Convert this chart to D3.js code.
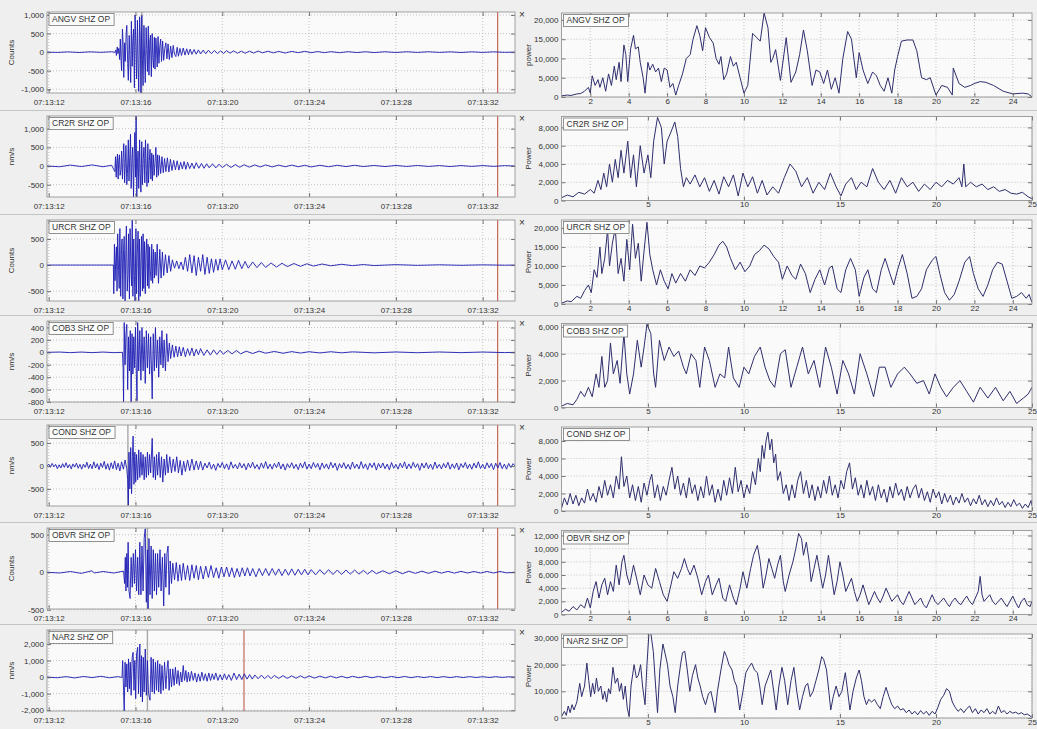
<!DOCTYPE html>
<html><head><meta charset="utf-8">
<script src="https://cdn.jsdelivr.net/npm/d3@7"></script>
<style>body{margin:0;background:#efefef}svg{display:block}</style>
</head><body><svg id="c" width="1037" height="729"></svg>
<script>
// ---------------- DATA ----------------
const stations = ["ANGV SHZ OP","CR2R SHZ OP","URCR SHZ OP","COB3 SHZ OP","COND SHZ OP","OBVR SHZ OP","NAR2 SHZ OP"];
const waveUnits = ["Counts","nm/s","Counts","nm/s","nm/s","Counts","nm/s"];
const specUnits = ["power","Power","Power","Power","Power","Power","Power"];
const waveTicks = [[-1000,-500,0,500,1000],[-500,0,500,1000],[-500,0,500],[-800,-600,-400,-200,0,200,400],[-500,0,500],[-500,0,500],[-2000,-1000,0,1000,2000]];
const waveDomains = [[-1100,1080],[-830,1340],[-690,865],[-800,505],[-870,890],[-490,590],[-2050,2850]];
const specTicksY = [[0,5000,10000,15000,20000],[0,2000,4000,6000,8000],[0,5000,10000,15000,20000],[0,2000,4000,6000],[0,2000,4000,6000,8000],[0,2000,4000,6000,8000,10000,12000],[0,10000,20000,30000]];
const specTicksX = [[2,4,6,8,10,12,14,16,18,20,22,24],[5,10,15,20,25],[2,4,6,8,10,12,14,16,18,20,22,24],[5,10,15,20,25],[5,10,15,20,25],[2,4,6,8,10,12,14,16,18,20,22,24],[5,10,15,20,25]];
const specMax = [21800,9200,22100,6250,9600,12760,31500];
const redLineTimes = [20.69,20.69,20.69,20.69,20.69,20.69,9.0];
const pickTimes = [4.29,null,null,null,3.65,4.55,4.55];

// seconds after 07:13:12, amplitude
const angvWave = [[-0.08,0],[0.4,-8],[0.9,6],[1.4,-10],[1.9,8],[2.4,-6],[2.9,10],[3.05,-5],[3.09,60],[3.12,-90],[3.16,140],[3.19,-40],[3.23,100],[3.27,-200],[3.3,350],[3.33,-150],[3.36,-500],[3.4,620],[3.43,200],[3.46,-680],[3.5,250],[3.53,-250],[3.57,500],[3.6,720],[3.64,-300],[3.67,-760],[3.71,450],[3.74,-100],[3.78,-820],[3.81,830],[3.85,-380],[3.88,300],[3.91,620],[3.95,-960],[3.98,1000],[4.02,150],[4.05,-720],[4.09,860],[4.12,-300],[4.15,-1060],[4.19,950],[4.22,400],[4.25,-1100],[4.29,990],[4.32,-200],[4.35,-900],[4.39,720],[4.42,-150],[4.45,-820],[4.49,660],[4.52,100],[4.55,-520],[4.59,700],[4.62,-620],[4.66,300],[4.69,460],[4.73,-660],[4.77,500],[4.8,-150],[4.83,-420],[4.87,400],[4.9,-460],[4.94,380],[4.97,80],[5.0,-400],[5.04,420],[5.08,-300],[5.12,150],[5.16,350],[5.2,-250],[5.25,300],[5.3,-220],[5.35,100],[5.4,250],[5.45,-180],[5.5,220],[5.56,-200],[5.62,160],[5.68,-150],[5.74,180],[5.8,-60],[5.86,-120],[5.92,130],[5.98,-110],[6.05,100],[6.12,-90],[6.2,110],[6.28,-80],[6.36,90],[6.44,-70],[6.52,80],[6.6,-60],[6.7,70],[6.8,-55],[6.9,60],[7.0,-50],[7.12,55],[7.24,-45],[7.36,50],[7.5,-40],[7.64,45],[7.78,-40],[7.92,35],[8.06,-35],[8.2,40],[8.36,-30],[8.52,35],[8.7,-30],[8.88,25],[9.06,-30],[9.25,25],[9.45,-25],[9.65,30],[9.85,-20],[10.1,25],[10.35,-20],[10.6,20],[10.9,-25],[11.2,20],[11.5,-15],[11.8,20],[12.1,-15],[12.4,15],[12.7,-15],[13.0,12],[13.4,-15],[13.8,12],[14.2,-12],[14.6,10],[15.0,-12],[15.5,10],[16,-10],[16.5,10],[17,-8],[17.5,10],[18,-8],[18.5,8],[19,-10],[19.5,8],[20,-8],[20.5,8],[21,-6],[21.49,0]];
const cr2rWave = [[-0.08,0],[0.5,-20],[1.0,25],[1.5,-15],[2.0,30],[2.5,-20],[2.9,20],[3.05,-150],[3.08,250],[3.11,-300],[3.14,100],[3.17,320],[3.2,-350],[3.23,150],[3.26,300],[3.29,-250],[3.33,-100],[3.36,400],[3.4,-350],[3.43,200],[3.46,600],[3.5,-450],[3.53,100],[3.56,550],[3.6,-500],[3.63,-200],[3.67,700],[3.7,-400],[3.74,300],[3.77,850],[3.8,-600],[3.84,200],[3.87,500],[3.91,-830],[3.94,300],[3.97,900],[4.0,-300],[4.03,1340],[4.06,-830],[4.09,100],[4.12,400],[4.15,-600],[4.19,700],[4.22,-200],[4.25,-700],[4.29,650],[4.32,-500],[4.36,200],[4.39,500],[4.43,-450],[4.46,700],[4.5,-100],[4.53,-550],[4.57,600],[4.6,-450],[4.64,150],[4.67,450],[4.71,-350],[4.75,350],[4.78,-400],[4.82,300],[4.86,-250],[4.9,100],[4.94,500],[4.98,-300],[5.02,300],[5.06,-250],[5.1,280],[5.16,-200],[5.22,250],[5.28,-180],[5.34,200],[5.4,-150],[5.47,220],[5.54,-160],[5.61,180],[5.68,-120],[5.76,150],[5.84,-100],[5.92,140],[6.0,-110],[6.08,100],[6.16,-80],[6.24,120],[6.32,-90],[6.4,100],[6.5,-70],[6.6,80],[6.7,-70],[6.8,90],[6.92,-60],[7.04,70],[7.16,-60],[7.28,60],[7.4,-50],[7.55,60],[7.7,-50],[7.85,50],[8.0,-40],[8.2,45],[8.4,-40],[8.6,40],[8.8,-35],[9.0,35],[9.25,-30],[9.5,30],[9.75,-25],[10,30],[10.3,-25],[10.6,25],[10.9,-20],[11.2,25],[11.5,-20],[11.8,20],[12.1,-25],[12.5,20],[12.9,-20],[13.3,20],[13.7,-15],[14.1,20],[14.5,-15],[15,15],[15.5,-15],[16,15],[16.5,-12],[17,15],[17.5,-12],[18,12],[18.5,-15],[19,12],[19.5,-10],[20,12],[20.5,-10],[21,10],[21.49,0]];
const urcrWave = [[-0.08,0],[1,0],[2,0],[2.98,0],[3.0,-550],[3.03,400],[3.06,-300],[3.09,100],[3.12,350],[3.15,-500],[3.18,600],[3.22,-100],[3.25,-450],[3.28,700],[3.32,-600],[3.35,200],[3.38,500],[3.42,-650],[3.45,300],[3.48,550],[3.52,-700],[3.55,150],[3.58,750],[3.62,-500],[3.65,-200],[3.68,600],[3.72,-650],[3.75,700],[3.78,100],[3.82,-400],[3.85,865],[3.88,-600],[3.92,500],[3.95,-200],[3.98,-710],[4.02,700],[4.05,-550],[4.08,200],[4.12,650],[4.15,-700],[4.18,500],[4.22,-600],[4.25,100],[4.28,550],[4.32,-500],[4.35,600],[4.38,-450],[4.42,450],[4.45,-550],[4.48,200],[4.52,500],[4.55,-400],[4.58,400],[4.62,-450],[4.65,350],[4.68,-100],[4.72,-300],[4.75,400],[4.79,-350],[4.83,300],[4.87,-250],[4.91,250],[4.95,-200],[5.0,400],[5.06,-350],[5.12,300],[5.18,-250],[5.24,250],[5.3,-200],[5.38,200],[5.46,-150],[5.54,180],[5.62,-120],[5.7,100],[5.8,-60],[5.9,80],[6.0,-70],[6.1,60],[6.2,-90],[6.3,150],[6.4,-120],[6.5,200],[6.6,-150],[6.7,180],[6.8,-200],[6.9,150],[7.0,-120],[7.1,200],[7.2,-180],[7.3,150],[7.4,-160],[7.5,120],[7.6,-140],[7.7,110],[7.8,-100],[7.9,120],[8.0,-90],[8.15,100],[8.3,-90],[8.45,80],[8.6,-80],[8.75,90],[8.9,-70],[9.05,70],[9.2,-60],[9.4,60],[9.6,-50],[9.8,50],[10,-45],[10.25,40],[10.5,-40],[10.75,35],[11,-30],[11.3,30],[11.6,-25],[11.9,25],[12.2,-20],[12.6,20],[13,-15],[13.5,15],[14,-12],[14.5,10],[15,-10],[16,8],[17,-6],[18,5],[19,-5],[20,4],[21,-3],[21.49,0]];
const cob3Wave = [[-0.08,0],[0.5,5],[1,-5],[1.5,5],[2,-5],[2.5,5],[3,-5],[3.4,0],[3.43,-250],[3.45,-800],[3.48,480],[3.52,-200],[3.56,300],[3.6,450],[3.64,-600],[3.68,250],[3.72,-300],[3.76,350],[3.8,-800],[3.84,300],[3.88,-350],[3.92,250],[3.96,-250],[4.0,400],[4.04,-350],[4.07,-780],[4.1,480],[4.15,-300],[4.2,350],[4.25,-450],[4.3,400],[4.35,-300],[4.4,250],[4.45,-500],[4.5,350],[4.55,-250],[4.6,300],[4.65,-350],[4.7,250],[4.77,-750],[4.82,300],[4.87,-300],[4.92,400],[4.97,-250],[5.02,200],[5.07,-400],[5.12,250],[5.17,-200],[5.22,350],[5.27,-250],[5.32,200],[5.38,-300],[5.44,300],[5.5,-150],[5.56,150],[5.62,-100],[5.7,120],[5.78,-80],[5.86,100],[5.94,-70],[6.02,90],[6.1,-60],[6.2,80],[6.3,-70],[6.4,60],[6.5,-50],[6.6,70],[6.7,-60],[6.8,50],[6.9,-40],[7.0,60],[7.15,-50],[7.3,40],[7.45,-45],[7.6,40],[7.75,-35],[7.9,35],[8.05,-30],[8.25,30],[8.45,-25],[8.65,30],[8.85,-25],[9.1,20],[9.4,-20],[9.7,20],[10,-15],[10.4,15],[10.8,-15],[11.2,12],[11.6,-12],[12,10],[12.5,-10],[13,10],[13.5,-8],[14,8],[15,-8],[16,6],[17,-6],[18,6],[19,-5],[20,5],[21,-4],[21.49,0]];
const condWave = [[-0.08,0],[0.0,40],[0.08,-30],[0.16,55],[0.24,-20],[0.32,35],[0.4,-60],[0.48,25],[0.56,-45],[0.64,50],[0.72,-30],[0.8,70],[0.88,-40],[0.96,30],[1.04,-65],[1.12,45],[1.2,-25],[1.28,60],[1.36,-50],[1.44,35],[1.52,-70],[1.6,40],[1.68,-30],[1.76,80],[1.84,-55],[1.92,40],[2.0,-60],[2.08,90],[2.16,-45],[2.24,50],[2.32,-80],[2.4,60],[2.48,-35],[2.56,100],[2.64,-70],[2.72,50],[2.8,-90],[2.88,70],[2.96,-60],[3.04,110],[3.12,-80],[3.2,60],[3.28,-110],[3.36,90],[3.44,-70],[3.52,130],[3.6,-60],[3.64,-300],[3.67,-850],[3.7,300],[3.74,-500],[3.78,400],[3.82,-600],[3.86,200],[3.89,650],[3.93,-400],[3.97,300],[4.01,-350],[4.05,250],[4.1,-300],[4.15,350],[4.2,-250],[4.25,300],[4.3,-200],[4.35,250],[4.4,-300],[4.45,200],[4.5,-250],[4.55,300],[4.6,-200],[4.65,250],[4.7,-150],[4.77,600],[4.82,-250],[4.87,200],[4.92,-300],[4.97,250],[5.02,-200],[5.08,300],[5.14,-250],[5.2,200],[5.26,-350],[5.32,150],[5.38,-200],[5.44,250],[5.5,-150],[5.58,200],[5.66,-150],[5.74,150],[5.82,-120],[5.9,200],[5.98,-150],[6.06,120],[6.14,-200],[6.22,100],[6.3,-120],[6.4,130],[6.5,-100],[6.6,150],[6.7,-90],[6.8,110],[6.9,-80],[7.0,100],[7.1,-90],[7.2,60],[7.3,-45],[7.4,85],[7.5,-70],[7.6,40],[7.7,-95],[7.8,55],[7.9,-35],[8.0,75],[8.1,-60],[8.2,45],[8.3,-80],[8.4,90],[8.5,-50],[8.6,35],[8.7,-65],[8.8,70],[8.9,-45],[9.0,50],[9.1,-85],[9.2,60],[9.3,-40],[9.4,80],[9.5,-55],[9.6,30],[9.7,-75],[9.8,65],[9.9,-50],[10.0,95],[10.1,-60],[10.2,40],[10.3,-70],[10.4,55],[10.5,-35],[10.6,85],[10.7,-65],[10.8,45],[10.9,-90],[11.0,50],[11.1,-40],[11.2,70],[11.3,-55],[11.4,35],[11.5,-80],[11.6,60],[11.7,-45],[11.8,90],[11.9,-70],[12.0,40],[12.1,-60],[12.2,75],[12.3,-35],[12.4,55],[12.5,-85],[12.6,65],[12.7,-50],[12.8,45],[12.9,-70],[13.0,80],[13.1,-40],[13.2,60],[13.3,-95],[13.4,50],[13.5,-45],[13.6,70],[13.7,-60],[13.8,35],[13.9,-75],[14.0,85],[14.1,-50],[14.2,40],[14.3,-65],[14.4,95],[14.5,-55],[14.6,45],[14.7,-80],[14.8,60],[14.9,-35],[15.0,70],[15.1,-90],[15.2,55],[15.3,-45],[15.4,65],[15.5,-60],[15.6,40],[15.7,-85],[15.8,75],[15.9,-50],[16.0,35],[16.1,-70],[16.2,60],[16.3,-40],[16.4,90],[16.5,-65],[16.6,45],[16.7,-55],[16.8,80],[16.9,-35],[17.0,50],[17.1,-95],[17.2,60],[17.3,-45],[17.4,70],[17.5,-60],[17.6,40],[17.7,-75],[17.8,85],[17.9,-50],[18.0,35],[18.1,-65],[18.2,55],[18.3,-40],[18.4,80],[18.5,-70],[18.6,45],[18.7,-55],[18.8,65],[18.9,-85],[19.0,50],[19.1,-35],[19.2,75],[19.3,-60],[19.4,40],[19.5,-70],[19.6,60],[19.7,-45],[19.8,90],[19.9,-55],[20.0,35],[20.1,-65],[20.2,70],[20.3,-40],[20.4,55],[20.5,-80],[20.6,60],[20.7,-45],[20.8,75],[20.9,-60],[21.0,40],[21.1,-70],[21.2,55],[21.3,-35],[21.4,50],[21.49,0]];
const obvrWave = [[-0.08,0],[0.5,-10],[1.0,10],[1.5,-15],[2.0,20],[2.1,-10],[2.5,10],[3.0,-10],[3.45,15],[3.5,-150],[3.53,200],[3.56,-250],[3.6,250],[3.63,-200],[3.66,400],[3.7,-250],[3.75,-350],[3.8,200],[3.85,-200],[3.9,250],[3.95,-150],[4.0,300],[4.05,-250],[4.1,200],[4.15,-300],[4.2,400],[4.25,-300],[4.3,350],[4.35,-250],[4.4,450],[4.45,580],[4.5,-400],[4.55,300],[4.58,-500],[4.62,450],[4.67,-300],[4.72,350],[4.77,-350],[4.82,300],[4.87,-250],[4.92,250],[4.97,-300],[5.02,250],[5.07,-200],[5.13,300],[5.18,-250],[5.24,200],[5.3,-450],[5.35,250],[5.4,-200],[5.45,250],[5.5,350],[5.55,-300],[5.6,150],[5.66,-150],[5.72,120],[5.8,-100],[5.88,130],[5.96,-120],[6.04,100],[6.12,-110],[6.2,120],[6.3,-100],[6.4,90],[6.5,-110],[6.6,100],[6.7,-80],[6.8,90],[6.9,-100],[7.0,80],[7.12,-90],[7.24,80],[7.36,-70],[7.48,90],[7.6,-70],[7.72,60],[7.84,-80],[7.96,70],[8.08,-60],[8.2,70],[8.32,-60],[8.44,60],[8.56,-70],[8.68,50],[8.8,-60],[8.92,60],[9.04,-50],[9.16,60],[9.28,-50],[9.4,50],[9.55,-60],[9.7,50],[9.85,-45],[10.0,50],[10.15,-45],[10.3,50],[10.45,-40],[10.6,45],[10.75,-45],[10.9,40],[11.05,-40],[11.2,45],[11.35,-40],[11.5,40],[11.65,-35],[11.8,40],[11.95,-35],[12.1,35],[12.3,-35],[12.5,35],[12.7,-30],[12.9,35],[13.1,-30],[13.3,30],[13.5,-30],[13.7,30],[13.9,-25],[14.1,30],[14.3,-25],[14.5,25],[14.7,-25],[14.9,25],[15.1,-20],[15.4,20],[15.7,-20],[16.0,20],[16.3,-20],[16.6,15],[16.9,-15],[17.2,15],[17.5,-15],[17.8,15],[18.1,-12],[18.4,12],[18.7,-12],[19,12],[19.3,-10],[19.6,10],[19.9,-10],[20.2,10],[20.5,-10],[20.8,10],[21.1,-8],[21.49,0]];
const nar2Wave = [[-0.08,0],[0.4,-40],[0.8,30],[1.2,-50],[1.6,40],[2.0,-30],[2.4,50],[2.8,-40],[3.2,30],[3.38,-20],[3.41,1000],[3.45,-800],[3.48,-2050],[3.52,900],[3.56,-600],[3.6,800],[3.64,-900],[3.68,1100],[3.72,-700],[3.76,900],[3.8,-1100],[3.85,1200],[3.89,1500],[3.93,-800],[3.97,1000],[4.01,-1300],[4.05,1400],[4.1,1800],[4.14,-1000],[4.2,2000],[4.24,-1200],[4.28,1300],[4.32,-1500],[4.36,1200],[4.4,-900],[4.45,1700],[4.5,-1100],[4.55,1000],[4.6,-1000],[4.67,-1400],[4.72,1200],[4.77,-900],[4.82,1100],[4.87,-1000],[4.92,900],[4.97,-800],[5.02,1000],[5.07,-900],[5.12,800],[5.17,-1000],[5.22,700],[5.28,-800],[5.34,900],[5.4,-700],[5.46,600],[5.5,1000],[5.55,-800],[5.6,500],[5.66,-600],[5.72,500],[5.78,-500],[5.84,600],[5.9,-400],[5.96,400],[6.02,-500],[6.08,300],[6.14,-300],[6.2,700],[6.26,-200],[6.32,400],[6.38,-300],[6.44,300],[6.5,-250],[6.58,350],[6.66,-200],[6.74,250],[6.82,-300],[6.9,200],[6.98,-250],[7.06,300],[7.14,-200],[7.22,200],[7.3,-250],[7.38,250],[7.46,-200],[7.54,200],[7.62,-150],[7.7,250],[7.8,-200],[7.9,150],[8.0,-180],[8.1,200],[8.2,-150],[8.3,150],[8.42,-200],[8.54,250],[8.66,-150],[8.78,180],[8.9,-150],[9.02,200],[9.14,-120],[9.26,150],[9.38,-120],[9.5,130],[9.65,-100],[9.8,120],[9.95,-100],[10.1,100],[10.25,-90],[10.4,100],[10.6,-80],[10.8,90],[11.0,-80],[11.2,80],[11.4,-70],[11.6,80],[11.8,-60],[12.0,70],[12.25,-60],[12.5,60],[12.75,-50],[13.0,60],[13.25,-50],[13.5,50],[13.75,-50],[14.0,50],[14.3,-40],[14.6,50],[14.9,-40],[15.2,40],[15.5,-40],[15.8,40],[16.1,-35],[16.4,40],[16.7,-35],[17.0,35],[17.3,-30],[17.6,35],[17.9,-30],[18.2,30],[18.5,-30],[18.8,30],[19.1,-25],[19.4,30],[19.7,-25],[20.0,25],[20.3,-25],[20.6,25],[20.9,-20],[21.2,20],[21.49,0]];

// frequency (Hz), power
const angvSpec = [[0.5,300],[0.8,500],[1.0,400],[1.3,800],[1.5,900],[1.7,1500],[1.9,2500],[2.0,1000],[2.1,5500],[2.25,3000],[2.4,4500],[2.5,2500],[2.65,5000],[2.8,1500],[2.95,6000],[3.1,3000],[3.25,8000],[3.35,4500],[3.5,9000],[3.6,4000],[3.75,13500],[3.85,11000],[3.95,4000],[4.1,12500],[4.25,16000],[4.35,12500],[4.5,13000],[4.6,9000],[4.75,5000],[4.85,1000],[5.0,9000],[5.1,7000],[5.25,8500],[5.4,6500],[5.55,7500],[5.7,4000],[5.85,7500],[6.0,7000],[6.15,2500],[6.3,3500],[6.45,500],[6.6,3000],[6.8,6000],[7.0,10000],[7.2,11000],[7.35,15000],[7.55,18500],[7.7,16000],[7.85,12000],[8.0,18000],[8.2,15500],[8.4,14000],[8.55,10000],[8.7,8500],[8.8,10500],[8.95,4500],[9.1,6000],[9.3,10500],[9.45,8000],[9.6,9000],[9.8,5000],[10.0,1000],[10.2,3000],[10.45,16500],[10.65,15500],[10.85,14500],[11.05,21800],[11.25,18000],[11.4,9000],[11.5,10000],[11.65,12300],[11.9,4300],[12.2,15400],[12.45,3800],[12.7,6500],[12.9,11000],[13.1,17400],[13.3,12000],[13.55,3000],[13.75,7000],[13.95,6500],[14.15,3500],[14.35,7000],[14.55,2000],[14.75,5000],[14.95,1000],[15.15,10000],[15.4,17000],[15.6,15000],[15.85,5000],[16.0,11500],[16.2,7000],[16.45,3500],[16.7,6500],[16.9,5500],[17.1,3000],[17.3,1500],[17.5,5000],[17.7,1000],[17.85,7000],[18.0,10500],[18.2,14500],[18.5,14800],[18.8,14800],[19.0,12000],[19.25,5000],[19.5,4500],[19.7,5000],[20.0,500],[20.3,3000],[20.6,2500],[20.85,500],[20.9,7500],[21.2,3500],[21.5,2500],[21.8,3000],[22.0,3500],[22.3,4000],[22.6,3800],[23.0,3000],[23.5,1500],[24.0,800],[24.5,1000],[24.8,800],[25.0,0]];
const cr2rSpec = [[0.5,300],[0.8,600],[1.1,400],[1.4,900],[1.7,700],[2.0,1200],[2.2,800],[2.4,2200],[2.55,1200],[2.7,3000],[2.85,1500],[3.0,4000],[3.15,2000],[3.3,4500],[3.45,2500],[3.6,5500],[3.75,3000],[3.95,6500],[4.1,2500],[4.25,5000],[4.4,1500],[4.6,6000],[4.8,3000],[5.0,5000],[5.15,2500],[5.3,6500],[5.5,9100],[5.7,8000],[5.85,4000],[6.0,6500],[6.2,7500],[6.4,8600],[6.55,7000],[6.7,3500],[6.85,1500],[7.0,2500],[7.2,1800],[7.45,2800],[7.7,1500],[7.95,2500],[8.2,1000],[8.45,2200],[8.7,700],[8.95,2600],[9.2,1500],[9.45,2800],[9.7,500],[9.95,3000],[10.2,1500],[10.45,2600],[10.7,800],[10.95,2200],[11.2,600],[11.5,1500],[11.8,800],[12.1,2500],[12.4,4000],[12.7,3200],[13.0,1500],[13.3,2500],[13.6,800],[13.9,2000],[14.2,1200],[14.5,3000],[14.8,1500],[15.05,500],[15.3,1800],[15.6,2500],[15.85,1200],[16.1,2000],[16.4,1500],[16.7,3500],[17.0,2000],[17.3,1200],[17.6,2200],[17.9,800],[18.2,2500],[18.5,1500],[18.8,2000],[19.1,1000],[19.4,1800],[19.7,1200],[20.0,2000],[20.3,1500],[20.6,2200],[20.9,1800],[21.2,2500],[21.35,1500],[21.45,4000],[21.55,1500],[21.8,2000],[22.1,1500],[22.4,1800],[22.7,1200],[23.0,1500],[23.3,1000],[23.6,1200],[23.9,800],[24.2,700],[24.5,900],[24.8,400],[25.0,200]];
const urcrSpec = [[0.5,200],[0.8,800],[1.0,600],[1.3,2000],[1.5,1500],[1.7,3500],[1.9,5000],[2.05,3000],[2.2,9000],[2.35,7000],[2.5,15000],[2.6,8000],[2.75,12000],[2.9,19500],[3.0,10000],[3.15,16000],[3.3,20000],[3.45,8000],[3.6,12000],[3.75,6000],[3.9,17000],[4.05,9000],[4.2,21000],[4.35,12000],[4.5,16000],[4.65,6000],[4.8,14000],[4.95,21500],[5.1,13000],[5.25,9000],[5.45,5000],[5.65,9000],[5.85,6000],[6.05,4000],[6.25,8000],[6.45,5500],[6.7,8000],[6.95,6000],[7.2,9000],[7.45,7500],[7.7,10000],[7.95,9500],[8.2,11000],[8.45,13000],[8.7,15500],[8.9,16500],[9.1,15000],[9.3,12000],[9.55,9000],[9.8,11000],[10.05,8500],[10.3,10000],[10.55,13000],[10.8,14000],[11.05,15500],[11.3,14500],[11.55,12500],[11.8,11000],[12.0,6500],[12.25,10000],[12.5,7500],[12.7,6500],[12.95,10500],[13.2,8000],[13.45,3000],[13.7,6500],[13.95,9000],[14.2,5000],[14.45,9500],[14.6,10000],[14.85,4000],[15.05,3000],[15.3,9000],[15.55,12000],[15.8,9000],[16.0,2000],[16.25,7000],[16.45,9000],[16.7,4000],[16.9,3000],[17.15,9000],[17.35,12000],[17.6,8000],[17.8,5000],[18.0,9000],[18.25,13000],[18.5,8000],[18.75,1500],[19.0,2000],[19.25,4000],[19.5,9000],[19.8,11500],[20.0,12500],[20.2,8000],[20.45,3000],[20.7,1000],[20.95,2500],[21.2,6000],[21.5,11000],[21.75,12500],[21.95,8000],[22.2,4000],[22.45,2000],[22.7,5000],[22.95,9000],[23.2,11000],[23.45,10500],[23.7,6000],[23.95,1500],[24.2,2000],[24.45,3000],[24.7,1500],[24.85,2500],[25.0,400]];
const cob3Spec = [[0.5,100],[0.8,300],[1.1,200],[1.3,600],[1.5,1200],[1.7,800],[1.9,1500],[2.1,800],[2.3,2500],[2.45,1500],[2.6,3800],[2.75,1500],[2.9,2000],[3.05,4800],[3.2,2500],[3.4,3500],[3.55,1800],[3.75,5500],[3.9,2500],[4.05,1000],[4.25,2500],[4.45,5000],[4.65,3000],[4.8,4500],[4.95,6200],[5.15,5500],[5.3,2500],[5.4,1500],[5.6,5000],[5.85,3500],[6.1,4500],[6.35,3800],[6.6,4200],[6.85,3000],[7.0,2500],[7.25,4000],[7.5,3500],[7.7,1500],[7.95,4500],[8.2,3500],[8.5,1500],[8.75,2500],[9.0,2200],[9.2,4500],[9.45,2200],[9.75,1500],[10.0,3000],[10.25,2500],[10.55,3800],[10.85,4500],[11.1,3000],[11.35,2000],[11.6,1500],[11.9,4000],[12.15,4300],[12.45,1500],[12.75,3000],[13.05,4500],[13.35,2500],[13.65,3500],[13.95,1500],[14.25,4500],[14.55,3000],[14.85,1000],[15.15,3500],[15.45,2500],[15.75,1000],[16.05,4000],[16.4,2500],[16.75,800],[17.05,3000],[17.35,3000],[17.65,1500],[18.0,2500],[18.35,3000],[18.65,2500],[19.0,1800],[19.35,2000],[19.65,1000],[19.95,2500],[20.25,1500],[20.55,800],[20.9,1500],[21.25,2000],[21.6,1200],[21.95,400],[22.3,1500],[22.7,700],[23.1,1500],[23.5,500],[23.85,1200],[24.2,300],[24.55,700],[24.8,1000],[25.0,1500]];
const condSpec = [[0.5,300],[0.65,1500],[0.8,700],[0.95,2000],[1.1,800],[1.25,1800],[1.4,600],[1.55,1500],[1.7,900],[1.85,2500],[2.0,1200],[2.15,2000],[2.3,1000],[2.45,2800],[2.6,1500],[2.75,3500],[2.9,1800],[3.05,3000],[3.2,1500],[3.35,4000],[3.5,2500],[3.62,6200],[3.75,2800],[3.9,4000],[4.05,1500],[4.2,3000],[4.35,1200],[4.5,2800],[4.65,1000],[4.8,3200],[4.95,1800],[5.1,3500],[5.2,4200],[5.35,1500],[5.5,3000],[5.65,1200],[5.8,2800],[5.95,1800],[6.1,3500],[6.25,5000],[6.4,2500],[6.55,4000],[6.7,1800],[6.85,3200],[7.0,1500],[7.15,3800],[7.3,2000],[7.45,3000],[7.6,1200],[7.75,2800],[7.9,1500],[8.05,4000],[8.2,1800],[8.35,3000],[8.5,1000],[8.65,2500],[8.8,1200],[8.95,3500],[9.1,1800],[9.25,3800],[9.4,2000],[9.55,5000],[9.7,2200],[9.85,3500],[10.0,1500],[10.15,3000],[10.3,2000],[10.45,4500],[10.6,3000],[10.75,6000],[10.85,4500],[10.95,7500],[11.05,6000],[11.15,8000],[11.25,9000],[11.35,7000],[11.45,8200],[11.55,5500],[11.65,6500],[11.75,3500],[11.9,4500],[12.05,2000],[12.2,3000],[12.35,1200],[12.5,3000],[12.65,1500],[12.8,3500],[12.95,4500],[13.1,2000],[13.25,3500],[13.4,1500],[13.55,3000],[13.7,1200],[13.85,2800],[14.0,1500],[14.15,3500],[14.3,2000],[14.45,4000],[14.6,1800],[14.75,3000],[14.9,1500],[15.05,3500],[15.2,2500],[15.35,4500],[15.5,5500],[15.65,2500],[15.8,3800],[15.95,1800],[16.1,3000],[16.25,1500],[16.4,3500],[16.55,1800],[16.7,2800],[16.85,1200],[17.0,3000],[17.15,1500],[17.3,2500],[17.45,1000],[17.6,2800],[17.75,1500],[17.9,3200],[18.05,1800],[18.2,2500],[18.35,1200],[18.5,2800],[18.65,1500],[18.8,2500],[18.95,3000],[19.1,1500],[19.25,2600],[19.4,1200],[19.55,2200],[19.7,1000],[19.85,2500],[20.0,1500],[20.15,2200],[20.3,800],[20.45,2000],[20.6,1000],[20.75,1800],[20.9,700],[21.05,1600],[21.2,900],[21.35,2000],[21.5,1000],[21.65,1500],[21.8,600],[21.95,1400],[22.1,800],[22.25,1800],[22.4,700],[22.55,1300],[22.7,500],[22.85,1200],[23.0,600],[23.15,1500],[23.3,700],[23.45,1100],[23.6,400],[23.75,1000],[23.9,500],[24.05,1300],[24.2,600],[24.35,900],[24.5,300],[24.65,800],[24.8,400],[24.95,1200],[25.0,600]];
const obvrSpec = [[0.5,300],[0.7,800],[0.9,500],[1.1,1200],[1.3,700],[1.5,1500],[1.7,1000],[1.85,2500],[2.0,1000],[2.15,3500],[2.3,5000],[2.45,2500],[2.6,4500],[2.75,5500],[2.9,3000],[3.05,5000],[3.2,3500],[3.35,7500],[3.5,4500],[3.65,8000],[3.75,9000],[3.9,6000],[4.05,4500],[4.25,7500],[4.45,5000],[4.6,3000],[4.8,6000],[5.0,4500],[5.2,4000],[5.4,7000],[5.6,5000],[5.8,3000],[6.0,2000],[6.2,4500],[6.35,6500],[6.55,5500],[6.75,7000],[6.9,8500],[7.05,7000],[7.2,6000],[7.4,7500],[7.6,5500],[7.8,3000],[8.0,5000],[8.15,6000],[8.35,3000],[8.55,4500],[8.7,5500],[8.9,2500],[9.05,2000],[9.25,4500],[9.45,2500],[9.6,1500],[9.8,4000],[9.95,6500],[10.15,4000],[10.35,7000],[10.5,9000],[10.7,10500],[10.85,8000],[11.0,4000],[11.15,6000],[11.3,8500],[11.45,7000],[11.6,5500],[11.75,7500],[11.9,9000],[12.05,5000],[12.15,3500],[12.35,6000],[12.55,8000],[12.7,10000],[12.85,12300],[13.0,11500],[13.1,9000],[13.25,11000],[13.4,8000],[13.5,5000],[13.65,7000],[13.8,9000],[13.95,6500],[14.1,4000],[14.25,6000],[14.4,9000],[14.55,6000],[14.7,3000],[14.85,5000],[15.0,8000],[15.15,6000],[15.3,3500],[15.45,4500],[15.6,5500],[15.75,3500],[15.9,2000],[16.05,3000],[16.2,4500],[16.35,3000],[16.5,1500],[16.65,2500],[16.8,3500],[16.95,2500],[17.1,1800],[17.25,2800],[17.4,4000],[17.55,3000],[17.7,2000],[17.85,2500],[18.0,3000],[18.15,2000],[18.3,1500],[18.45,2500],[18.6,3500],[18.75,2500],[18.9,1500],[19.05,2000],[19.2,2500],[19.35,1500],[19.5,1000],[19.65,2000],[19.8,3000],[19.95,2000],[20.1,1500],[20.25,2000],[20.4,2500],[20.55,1800],[20.7,1200],[20.85,2000],[21.0,2500],[21.15,1800],[21.3,1500],[21.45,2200],[21.6,2800],[21.75,2000],[21.9,1500],[22.05,2500],[22.2,3500],[22.3,5800],[22.4,3000],[22.5,2000],[22.65,2500],[22.8,3000],[22.95,2000],[23.1,1500],[23.25,2000],[23.4,2500],[23.55,1800],[23.7,1200],[23.85,2000],[24.0,2800],[24.15,1800],[24.3,1000],[24.45,2000],[24.6,2500],[24.75,1500],[24.9,1200],[25.0,2000]];
const nar2Spec = [[0.5,500],[0.65,2500],[0.75,1000],[0.85,4500],[0.95,2000],[1.05,5000],[1.15,3000],[1.3,6000],[1.45,13000],[1.55,8000],[1.7,12000],[1.82,20600],[1.92,14000],[2.02,8000],[2.12,13000],[2.22,9000],[2.32,15000],[2.42,10000],[2.55,12000],[2.65,7000],[2.75,10000],[2.85,6000],[2.95,11000],[3.05,9000],[3.18,19000],[3.3,13000],[3.42,15000],[3.52,10000],[3.62,13000],[3.72,7000],[3.82,12000],[3.92,4000],[4.02,500],[4.12,12000],[4.28,20000],[4.4,15000],[4.5,16000],[4.62,20000],[4.72,12000],[4.85,5000],[4.95,20000],[5.05,31500],[5.15,32000],[5.28,25000],[5.4,12000],[5.5,2000],[5.62,18000],[5.78,27750],[5.9,24000],[6.02,20000],[6.15,12000],[6.3,8000],[6.42,2000],[6.55,12000],[6.7,20000],[6.8,24500],[6.92,25000],[7.05,18000],[7.18,10000],[7.32,16000],[7.48,20000],[7.6,15000],[7.72,12000],[7.85,8000],[8.0,5000],[8.15,9000],[8.28,10000],[8.4,6000],[8.5,2000],[8.62,10000],[8.8,18000],[8.98,25000],[9.1,23000],[9.22,20000],[9.38,18000],[9.5,14000],[9.62,12000],[9.78,3000],[9.95,10000],[10.1,17000],[10.25,19000],[10.4,20600],[10.55,18000],[10.7,17000],[10.82,12000],[10.95,5000],[11.1,12000],[11.25,15000],[11.4,18000],[11.55,10000],[11.68,3000],[11.82,12000],[11.98,19000],[12.12,14000],[12.28,5000],[12.45,14000],[12.6,19000],[12.75,10000],[12.9,3000],[13.05,8000],[13.2,12000],[13.32,13000],[13.45,8000],[13.6,10000],[13.75,14000],[13.9,18000],[14.05,23000],[14.15,22000],[14.3,18000],[14.42,10000],[14.52,3000],[14.65,8000],[14.8,12000],[14.95,8000],[15.1,10000],[15.28,17000],[15.4,10000],[15.52,3000],[15.68,10000],[15.85,15000],[16.0,18000],[16.12,14000],[16.25,8000],[16.38,5000],[16.5,7000],[16.65,6000],[16.8,7000],[16.95,5000],[17.1,3500],[17.25,8000],[17.4,11500],[17.55,8000],[17.7,5000],[17.85,3500],[18.0,4500],[18.15,3000],[18.3,3500],[18.45,2000],[18.6,3000],[18.75,1500],[18.9,2500],[19.05,1200],[19.2,2800],[19.35,1500],[19.5,2500],[19.65,1000],[19.8,2500],[19.95,1500],[20.1,4000],[20.25,7000],[20.4,8500],[20.55,11000],[20.7,10000],[20.85,6000],[21.0,4000],[21.15,2500],[21.3,3500],[21.45,2000],[21.6,3500],[21.75,4500],[21.9,2000],[22.05,3500],[22.2,1500],[22.35,3000],[22.5,2000],[22.65,3500],[22.8,1500],[22.95,2500],[23.1,1500],[23.25,4500],[23.4,2000],[23.55,2800],[23.7,1500],[23.85,2500],[24.0,1800],[24.15,2200],[24.3,1500],[24.45,2000],[24.6,1200],[24.75,1500],[24.9,800],[25.0,300]];

const waves = [angvWave,cr2rWave,urcrWave,cob3Wave,condWave,obvrWave,nar2Wave];
const specs = [angvSpec,cr2rSpec,urcrSpec,cob3Spec,condSpec,obvrSpec,nar2Spec];

// ---------------- DRAW ----------------
const svg = d3.select("#c");
const FONT = "'Liberation Sans', Arial, sans-serif";
const fmt = d3.formatLocale({decimal:".",thousands:",",grouping:[3],currency:["",""],minus:"-"}).format(",");
const base = new Date(2000,0,1,7,13,12).getTime();
const toDate = t => new Date(base + t*1000);
const leftTops = [12,116,220,321,425,528,630];
const LH = 81, LX0 = 47, LX1 = 515;
const RH = 84, RX0 = 561.5, RX1 = 1032;
const rightTop = i => 13 + i*103.5;

for (let i=1;i<7;i++){
  svg.append("line").attr("x1",0).attr("x2",1037).attr("y1",leftTops[i]-5.5).attr("y2",leftTops[i]-5.5)
    .attr("stroke","#c4c4c4").attr("stroke-width",1);
}

function styleAxis(sel){
  sel.select(".domain").remove();
  sel.selectAll(".tick line").attr("stroke","#555").attr("stroke-width",0.8);
  sel.selectAll(".tick text").attr("fill","#333").style("font-family",FONT).style("font-size","8px");
}

function panel(opts){
  const {x,y,x0,x1,top,h,xt,yt,xfmt,yfmt,data,color,width,title,unit,unitX,id,padBottom,vlines} = opts;
  const g = svg.append("g");
  g.append("rect").attr("x",x0).attr("y",top).attr("width",x1-x0).attr("height",h).attr("fill","#fafafa");
  g.selectAll(null).data(xt).join("line").attr("x1",d=>x(d)).attr("x2",d=>x(d)).attr("y1",top).attr("y2",top+h)
    .attr("stroke","#b5b5b5").attr("stroke-width",0.8).attr("stroke-dasharray","1,2");
  g.selectAll(null).data(yt).join("line").attr("x1",x0).attr("x2",x1).attr("y1",d=>y(d)).attr("y2",d=>y(d))
    .attr("stroke","#b5b5b5").attr("stroke-width",0.8).attr("stroke-dasharray","1,2");
  svg.append("clipPath").attr("id",id).append("rect").attr("x",x0).attr("y",top).attr("width",x1-x0).attr("height",h);
  const cg = g.append("g").attr("clip-path",`url(#${id})`);
  (vlines||[]).forEach(v=>{
    cg.append("line").attr("x1",v.x).attr("x2",v.x).attr("y1",top).attr("y2",top+h).attr("stroke",v.c).attr("stroke-width",v.w);
  });
  cg.append("path").datum(data).attr("fill","none").attr("stroke",color).attr("stroke-width",width)
    .attr("stroke-linejoin","round").attr("d",d3.line().x(d=>opts.px(d)).y(d=>y(d[1])));
  g.append("g").attr("transform",`translate(0,${top+h})`).call(d3.axisBottom(x).tickValues(xt).tickFormat(xfmt).tickSizeInner(-4).tickSizeOuter(0).tickPadding(padBottom)).call(styleAxis);
  g.append("g").attr("transform",`translate(0,${top})`).call(d3.axisTop(x).tickValues(xt).tickFormat("").tickSizeInner(-4).tickSizeOuter(0)).call(styleAxis);
  g.append("g").attr("transform",`translate(${x0},0)`).call(d3.axisLeft(y).tickValues(yt).tickFormat(yfmt).tickSizeInner(-4).tickSizeOuter(0).tickPadding(3)).call(styleAxis);
  g.append("g").attr("transform",`translate(${x1},0)`).call(d3.axisRight(y).tickValues(yt).tickFormat("").tickSizeInner(-4).tickSizeOuter(0)).call(styleAxis);
  g.append("rect").attr("x",x0).attr("y",top).attr("width",x1-x0).attr("height",h).attr("fill","none").attr("stroke","#8c8c8c").attr("stroke-width",0.8);
  const lg = g.append("g");
  const tx = lg.append("text").attr("x",x0+5).attr("y",top+10).text(title).attr("fill","#333")
    .style("font-family",FONT).style("font-size","8.5px");
  const tw = tx.node().getComputedTextLength();
  lg.insert("rect","text").attr("x",x0+2).attr("y",top+1.5).attr("width",tw+7).attr("height",12)
    .attr("fill","#fcfcfc").attr("stroke","#777").attr("stroke-width",0.8);
  g.append("text").attr("transform",`translate(${unitX},${top+h/2}) rotate(-90)`).attr("text-anchor","middle")
    .attr("fill","#333").style("font-family",FONT).style("font-size","8px").text(unit);
}

const tfmt = d3.timeFormat("%H:%M:%S");
stations.forEach((name,i)=>{
  const top = leftTops[i];
  const x = d3.scaleTime().domain([toDate(-0.078),toDate(21.49)]).range([LX0,LX1]);
  const y = d3.scaleLinear().domain(waveDomains[i]).range([top+LH,top]);
  const vl = [];
  if (pickTimes[i]!==null) vl.push({x:x(toDate(pickTimes[i])),c:"#a9a9a9",w:1.4});
  vl.push({x:x(toDate(redLineTimes[i])),c:"#c4685a",w:1.2});
  panel({x,y,x0:LX0,x1:LX1,top,h:LH,xt:x.ticks(d3.timeSecond.every(4)),yt:waveTicks[i],xfmt:tfmt,yfmt:fmt,
    data:waves[i],px:d=>x(toDate(d[0])),color:"#1c1cb4",width:0.9,title:name,unit:waveUnits[i],unitX:14,id:"cl"+i,padBottom:6,vlines:vl});
  svg.append("text").attr("x",522).attr("y",top+6).attr("text-anchor","middle").attr("fill","#333")
    .style("font-family",FONT).style("font-size","10px").text("×");

  const rt = rightTop(i);
  const xs = d3.scaleLinear().domain([0.5,25]).range([RX0,RX1]);
  const ys = d3.scaleLinear().domain([0,specMax[i]]).range([rt+RH,rt]);
  panel({x:xs,y:ys,x0:RX0,x1:RX1,top:rt,h:RH,xt:specTicksX[i],yt:specTicksY[i],xfmt:d3.format("d"),yfmt:fmt,
    data:specs[i],px:d=>xs(d[0]),color:"#2e2e6e",width:1,title:name,unit:specUnits[i],unitX:531,id:"cr"+i,padBottom:1});
});
</script></body></html>
